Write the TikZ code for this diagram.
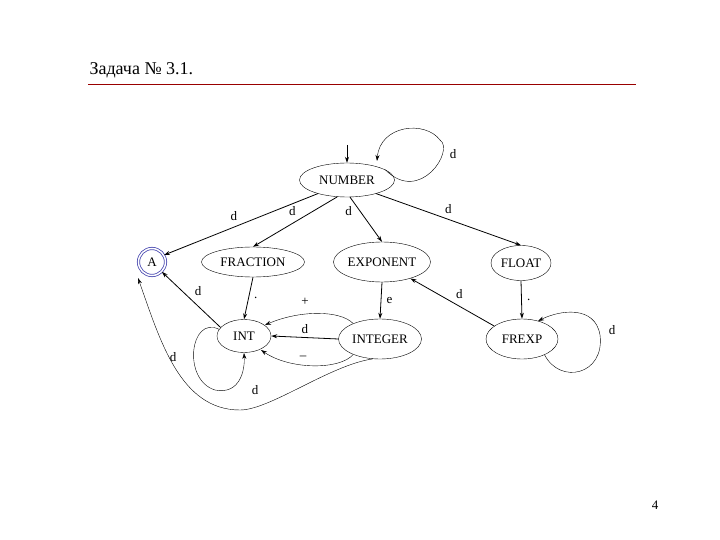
\documentclass[tikz,border=0pt]{standalone}
\usepackage{fontspec}
\setmainfont{Liberation Serif}
\usetikzlibrary{shapes.geometric,arrows.meta}
\begin{document}
\begin{tikzpicture}[x=1pt,y=-1pt,
  st/.style={ellipse,draw,thin,inner sep=0pt,font=\fontsize{13}{15}\selectfont},
  ed/.style={-{Stealth[length=6pt,width=4pt]},thick},
  lp/.style={->,thin,-{Stealth[length=6pt,width=4pt]}},
  lb/.style={font=\fontsize{13}{15}\selectfont}]
\useasboundingbox (0,0) rectangle (720,540);
\node[font=\fontsize{18}{20}\selectfont,anchor=west] (title) at (86,70) {Задача № 3.1.};
\draw[red!60!black] (88,84) -- (636,84);
\node[lb] (pg) at (655,505) {4};
\node[st,minimum width=95pt,minimum height=34pt] (N) at (347,180) {NUMBER};
\node[circle,draw=blue!40!gray,double=white,double distance=1.5pt,thick,minimum size=27pt,inner sep=0pt,font=\fontsize{13}{15}\selectfont] (A) at (152,262) {A};
\node[st,minimum width=103pt,minimum height=30pt] (F) at (253,262) {FRACTION};
\node[st,minimum width=97pt,minimum height=40pt] (E) at (382,262) {EXPONENT};
\node[st,minimum width=60pt,minimum height=35pt] (FL) at (521,263) {FLOAT};
\node[st,minimum width=54pt,minimum height=33pt] (I) at (244,336) {INT};
\node[st,minimum width=83pt,minimum height=40pt] (IG) at (380,339) {INTEGER};
\node[st,minimum width=72pt,minimum height=40pt] (FX) at (522,339) {FREXP};
\coordinate (s0) at (347,145);
\draw[ed] (s0) -- (N);
\draw[lp] (N.15) .. controls (420,205) and (455,150) .. (440,140) .. controls (425,120) and (380,125) .. (377,161);
\node[lb] at (453,154) {d};
\draw[ed] (N.205) -- (A.30) node[lb,pos=0.5,above left] {d};
\draw[ed] (N.240) -- (F.north) node[lb,pos=0.45,above left] {d};
\draw[ed] (N.280) -- (E.north) node[lb,pos=0.3,left=4pt] {d};
\draw[ed] (N.335) -- (FL.north) node[lb,pos=0.45,above right] {d};
\draw[ed] (F.south) -- (I.north) node[lb,midway,right=2pt] {.};
\draw[ed] (E.south) -- (IG.north) node[lb,midway,right=2pt] {e};
\draw[ed] (FL.south) -- (FX.north) node[lb,midway,right=2pt] {.};
\draw[ed] (FX.155) -- (E.330) node[lb,midway,above right] {d};
\draw[ed] (I.160) -- (A.-45) node[lb,midway,above right] {d};
\draw[lp] (I.165) .. controls (190,315) and (182,380) .. (215,390) .. controls (240,395) and (245,370) .. (244,353);
\node[lb] at (173,357) {d};
\draw[ed] (IG.west) -- (I.east) node[lb,midway,above] {d};
\draw[lp] (IG.150) .. controls (340,310) and (300,310) .. (265,325);
\node[lb] at (305,302) {+};
\draw[lp] (IG.210) .. controls (340,370) and (290,370) .. (261,350);
\node[lb] at (303,358) {--};
\draw[lp] (IG.250) .. controls (330,365) and (270,410) .. (240,410) .. controls (180,410) and (160,340) .. (138,278);
\node[lb] at (255,390) {d};
\draw[lp] (FX.-35) .. controls (560,385) and (605,375) .. (600,335) .. controls (595,305) and (560,310) .. (538,321);
\node[lb] at (612,330) {d};
\end{tikzpicture}
\end{document}
